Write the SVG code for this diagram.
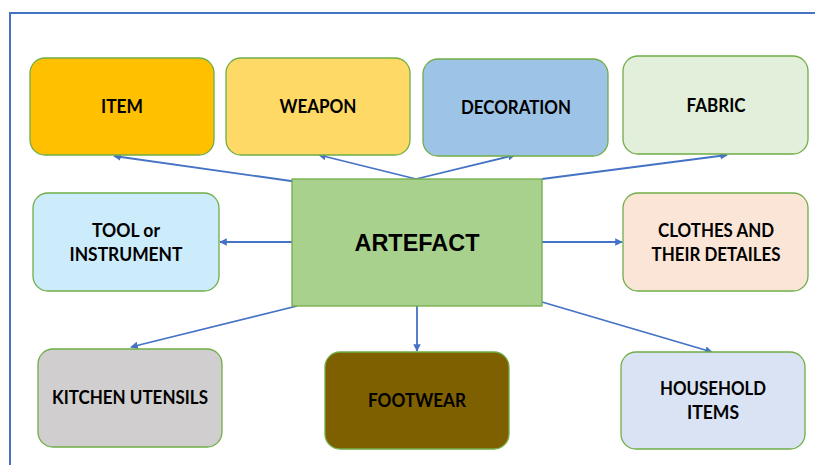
<svg xmlns="http://www.w3.org/2000/svg" width="815" height="465" viewBox="0 0 815 465">
  <style>
    .box { stroke: #70AD47; stroke-width: 1.3; }
    .lbl { font-family: Lato, "Liberation Sans", sans-serif; font-weight: bold; font-size: 18px; fill: #000; text-anchor: middle; }
    .big { font-family: "Liberation Sans", Arial, sans-serif; font-weight: bold; font-size: 24px; fill: #000; text-anchor: middle; }
    .conn { stroke: #4472C4; stroke-width: 1.8; fill: none; marker-end: url(#arr); }
  </style>
  <defs>
    <marker id="arr" viewBox="0 0 10 10" refX="9" refY="5" markerWidth="4.2" markerHeight="4.2" orient="auto" markerUnits="strokeWidth">
      <path d="M0,0 L10,5 L0,10 z" fill="#4472C4"/>
    </marker>
  </defs>

  <rect width="815" height="465" fill="#FFFFFF"/>
  <!-- outer frame -->
  <rect x="10" y="13" width="830" height="480" fill="none" stroke="#4472C4" stroke-width="2"/>

  <g id="connectors">
    <line class="conn" x1="298" y1="182" x2="114" y2="156"/>
    <line class="conn" x1="416" y1="179" x2="319" y2="155"/>
    <line class="conn" x1="416" y1="179" x2="515" y2="155"/>
    <line class="conn" x1="542" y1="179" x2="727" y2="155"/>
    <line class="conn" x1="292" y1="242" x2="220" y2="242"/>
    <line class="conn" x1="542" y1="242" x2="622" y2="242"/>
    <line class="conn" x1="297" y1="306" x2="131" y2="347"/>
    <line class="conn" x1="417" y1="306" x2="417" y2="351"/>
    <line class="conn" x1="542" y1="302" x2="712" y2="352"/>
  </g>

  <g id="item">
    <rect class="box" x="30" y="58" width="184" height="97" rx="15" fill="#FFC000"/>
    <text class="lbl" x="122" y="113" textLength="42" lengthAdjust="spacingAndGlyphs">ITEM</text>
  </g>
  <g id="weapon">
    <rect class="box" x="226" y="58" width="184" height="97" rx="15" fill="#FFD966"/>
    <text class="lbl" x="318" y="113" textLength="77" lengthAdjust="spacingAndGlyphs">WEAPON</text>
  </g>
  <g id="decoration">
    <rect class="box" x="423" y="59" width="185" height="97" rx="15" fill="#9DC3E6"/>
    <text class="lbl" x="516" y="114" textLength="110" lengthAdjust="spacingAndGlyphs">DECORATION</text>
  </g>
  <g id="fabric">
    <rect class="box" x="623" y="56" width="185" height="98" rx="15" fill="#E2EFDA"/>
    <text class="lbl" x="716" y="112" textLength="59" lengthAdjust="spacingAndGlyphs">FABRIC</text>
  </g>
  <g id="tool">
    <rect class="box" x="33" y="193" width="186" height="98" rx="15" fill="#CCECFC"/>
    <text class="lbl" x="126" y="237" textLength="68" lengthAdjust="spacingAndGlyphs">TOOL or</text>
    <text class="lbl" x="126" y="261" textLength="113" lengthAdjust="spacingAndGlyphs">INSTRUMENT</text>
  </g>
  <g id="artefact">
    <rect class="box" x="292" y="179" width="250" height="127" fill="#A9D18E"/>
    <text class="big" x="417" y="251" textLength="125" lengthAdjust="spacingAndGlyphs">ARTEFACT</text>
  </g>
  <g id="clothes">
    <rect class="box" x="623" y="193" width="185" height="98" rx="15" fill="#FBE5D6"/>
    <text class="lbl" x="716" y="237" textLength="116" lengthAdjust="spacingAndGlyphs">CLOTHES AND</text>
    <text class="lbl" x="716" y="261" textLength="129" lengthAdjust="spacingAndGlyphs">THEIR DETAILES</text>
  </g>
  <g id="kitchen">
    <rect class="box" x="38" y="349" width="184" height="98" rx="15" fill="#D0CECE"/>
    <text class="lbl" x="130" y="404" textLength="156" lengthAdjust="spacingAndGlyphs">KITCHEN UTENSILS</text>
  </g>
  <g id="footwear">
    <rect class="box" x="325" y="352" width="184" height="97" rx="15" fill="#7F6000"/>
    <text class="lbl" x="417" y="407" textLength="98" lengthAdjust="spacingAndGlyphs">FOOTWEAR</text>
  </g>
  <g id="household">
    <rect class="box" x="621" y="352" width="184" height="97" rx="15" fill="#DAE3F3"/>
    <text class="lbl" x="713" y="395" textLength="106" lengthAdjust="spacingAndGlyphs">HOUSEHOLD</text>
    <text class="lbl" x="713" y="419" textLength="52" lengthAdjust="spacingAndGlyphs">ITEMS</text>
  </g>
</svg>
